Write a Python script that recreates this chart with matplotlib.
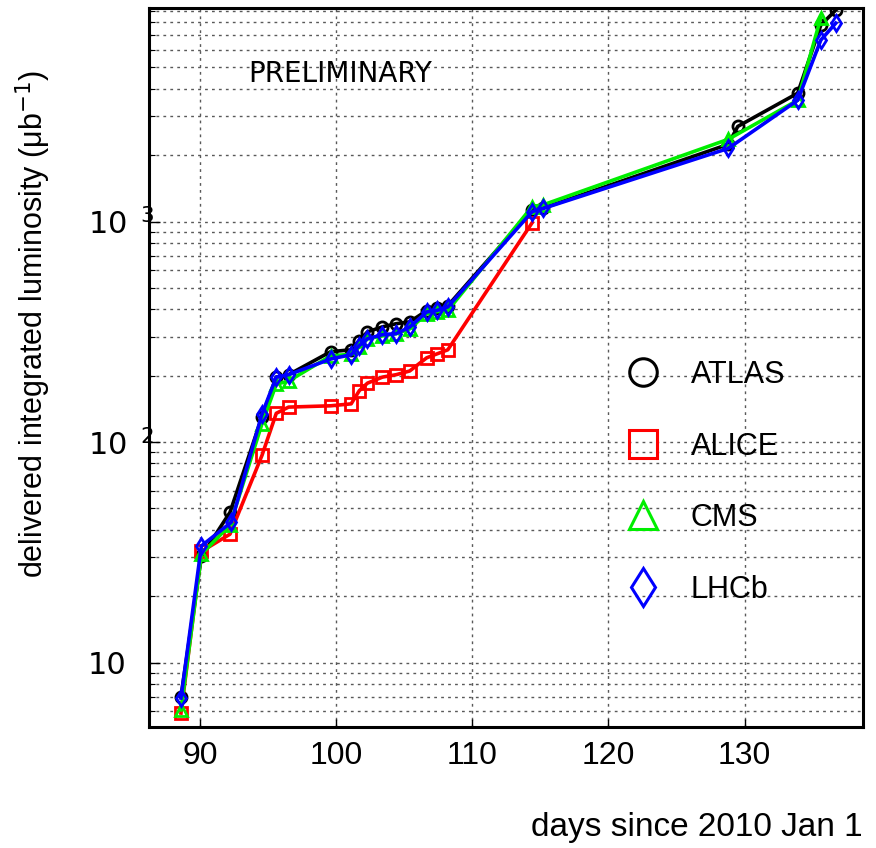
import math
import matplotlib
matplotlib.use("Agg")
import matplotlib.pyplot as plt
from matplotlib.lines import Line2D
from matplotlib.ticker import LogLocator, FuncFormatter, NullFormatter, FixedLocator

# ---- data ----
atlas_days = [88.6, 90.1, 92.2, 94.55, 95.6, 96.5, 99.6, 101.1, 101.7, 102.3, 103.4, 104.4,
              105.4, 106.65, 107.4, 108.2, 114.4, 115.2, 128.8, 129.5, 133.9, 135.6, 136.7]
atlas = [7.0, 30.3, 48, 130, 197, 202, 257, 262, 288, 316, 333, 344,
         351, 394, 406, 415, 1130, 1150, 2240, 2700, 3820, 7780, 9100]

alice_days = [88.6, 90.1, 92.2, 94.55, 95.6, 96.5, 99.6, 101.1, 101.7, 102.3, 103.4, 104.4,
              105.4, 106.65, 107.4, 108.2, 114.4]
alice = [5.9, 31.9, 38.2, 87, 135, 144, 146, 149, 171, 185, 197, 202,
         210, 241, 251, 262, 989]

cms_days = [88.6, 90.1, 92.2, 94.55, 95.6, 96.5, 99.6, 101.1, 101.7, 102.3, 103.4, 104.4,
            105.4, 106.65, 107.4, 108.2, 114.4, 115.2, 128.8, 133.9, 135.6]
cms = [6.1, 31, 42, 121, 183, 189, 246, 250, 270, 294, 303, 310,
       326, 382, 390, 395, 1170, 1190, 2360, 3550, 8400]

lhcb_days = [88.6, 90.1, 92.3, 94.55, 95.6, 96.5, 99.6, 101.1, 101.7, 102.3, 103.4, 104.4,
             105.4, 106.65, 107.4, 108.2, 114.4, 115.2, 128.8, 133.9, 135.6, 136.7]
lhcb = [6.9, 33.8, 43.3, 134, 197, 202, 238, 249, 274, 294, 307, 310,
        332, 389, 395, 410, 1110, 1146, 2146, 3548, 6650, 7940]

series_names = ["ATLAS", "ALICE", "CMS", "LHCb"]
x_ticks = [90, 100, 110, 120, 130]

narrow = ["Liberation Sans Narrow", "Liberation Sans", "DejaVu Sans"]

fig = plt.figure(figsize=(8.76, 8.48), dpi=100)
ax = fig.add_axes([149/876, 1 - 727/848, (863-149)/876, (727-8)/848])

styles = [
    (atlas_days, atlas, "black", "o"),
    (alice_days, alice, "#ff0000", "s"),
    (cms_days, cms, "#00ee00", "^"),
    (lhcb_days, lhcb, "#0000ff", "d"),
]
for d, v, c, m in styles:
    ax.plot(d, v, color=c, lw=2.6, marker=m, ms=8, mfc="none", mec=c, mew=2.0, zorder=3)

ax.set_yscale("log")
ax.set_xlim(86.25, 138.7)
ax.set_ylim(5.1, 9300)

ax.xaxis.set_major_locator(FixedLocator(x_ticks))
ax.yaxis.set_major_locator(LogLocator(base=10, numticks=10))
ax.yaxis.set_minor_locator(LogLocator(base=10, subs=range(2, 10), numticks=20))
ax.yaxis.set_minor_formatter(NullFormatter())

def yfmt(v, pos):
    if abs(v - 10) < 1e-6:
        return "10"
    e = int(round(math.log10(v)))
    return "10" + r"$^{\ \ ^{\mathregular{%d}}}$" % e if False else "10" + r"$^{\ \ \mathregular{%d}}$" % e
ax.yaxis.set_major_formatter(FuncFormatter(yfmt))

ax.grid(True, which="major", axis="x", color="0.35", lw=1.0, ls=(0, (2, 3)))
ax.grid(True, which="both", axis="y", color="0.35", lw=1.0, ls=(0, (2, 3)))
ax.set_axisbelow(True)

for s in ax.spines.values():
    s.set_linewidth(2.2)

ax.tick_params(axis="x", which="major", direction="in", length=6, width=1, pad=10)
ax.tick_params(axis="y", which="major", direction="in", length=8, width=1, pad=44)
ax.tick_params(axis="y", which="minor", direction="in", length=4, width=0.8)
for lab in ax.get_xticklabels():
    lab.set_fontfamily(narrow)
    lab.set_fontsize(23)
for lab in ax.get_yticklabels():
    lab.set_fontfamily(["DejaVu Sans"])
    lab.set_fontsize(22)
    lab.set_horizontalalignment("left")

ax.set_xlabel("days since 2010 Jan 1", fontsize=24, family=narrow, ha="right", va="top")
ax.xaxis.set_label_coords(1.0, -0.118)
ax.set_ylabel("delivered integrated luminosity (μb$^{-1}$)", fontsize=22, family=narrow)
ax.yaxis.set_label_coords(-0.135, 0.56)

ax.text(248/876, 1 - 74/848, "PRELIMINARY", transform=fig.transFigure, fontsize=20,
        family=["DejaVu Sans"], ha="left", va="center")

handles = [Line2D([], [], color=c, marker=m, ls="none", ms=9, mfc="none", mec=c, mew=2.2)
           for _, _, c, m in styles]
leg = ax.legend(handles, series_names, loc="upper left",
                bbox_to_anchor=(628/876, 1 - 360/848), bbox_transform=fig.transFigure,
                frameon=False, borderpad=0, borderaxespad=0, markerscale=2.2,
                handlelength=1.0, handletextpad=1.05, labelspacing=1.36,
                prop={"family": "Liberation Sans", "size": 22})

fig.savefig("out.png", dpi=100)
